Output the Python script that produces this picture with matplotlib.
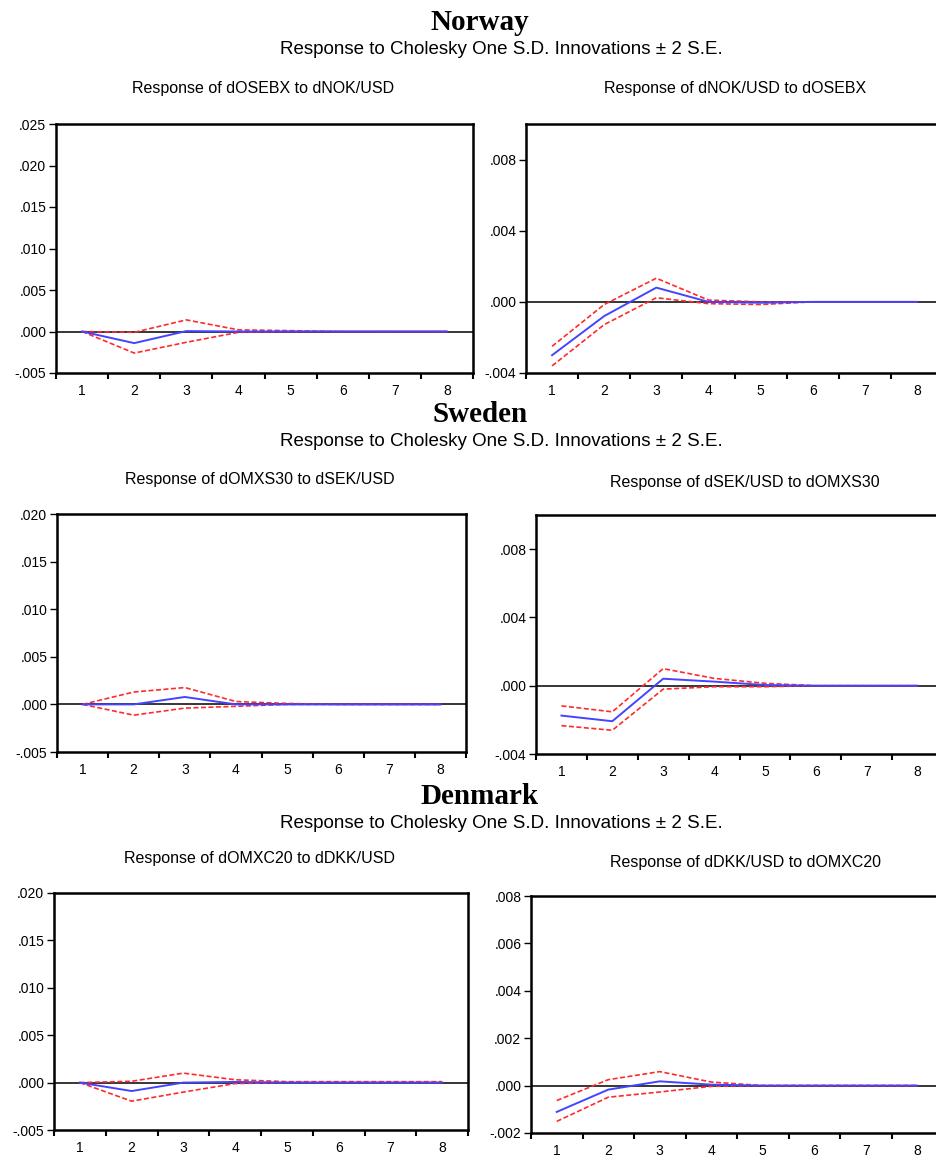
import matplotlib
matplotlib.use('Agg')
import matplotlib.pyplot as plt
from matplotlib.ticker import FuncFormatter, FixedLocator

W, H = 936, 1156

periods = [1, 2, 3, 4, 5, 6, 7, 8]

# Norway
nor_l_resp = [0.0, -0.0014, 0.00005, 0.0, 0.0, 0.0, 0.0, 0.0]
nor_l_up = [0.0, -0.0001, 0.0014, 0.0002, 0.0001, 0.0, 0.0, 0.0]
nor_l_lo = [0.0, -0.0026, -0.0013, -0.0001, 0.0, 0.0, 0.0, 0.0]
nor_r_resp = [-0.0030, -0.0008, 0.0008, 0.0, -0.00005, 0.0, 0.0, 0.0]
nor_r_up = [-0.0025, -0.00015, 0.00133, 0.0001, 0.0, 0.0, 0.0, 0.0]
nor_r_lo = [-0.0036, -0.00128, 0.00023, -0.0001, -0.00015, 0.0, 0.0, 0.0]

# Sweden
swe_l_resp = [0.0, 0.0, 0.00078, 0.0, 0.0, 0.0, 0.0, 0.0]
swe_l_up = [0.0, 0.0013, 0.00177, 0.0003, 0.0001, 0.0, 0.0, 0.0]
swe_l_lo = [0.0, -0.00113, -0.00039, -0.0002, 0.0, 0.0, 0.0, 0.0]
swe_r_resp = [-0.00175, -0.00208, 0.00041, 0.00024, 0.00004, 0.0, 0.0, 0.0]
swe_r_up = [-0.00118, -0.00153, 0.0010, 0.00043, 0.00014, 0.0, 0.0, 0.0]
swe_r_lo = [-0.00234, -0.00261, -0.0002, -0.00006, -0.00006, 0.0, 0.0, 0.0]

# Denmark
den_l_resp = [0.0, -0.00089, 0.0, 0.00007, 0.0, 0.0, 0.0, 0.0]
den_l_up = [0.0, 0.00014, 0.0010, 0.0003, 0.0001, 0.0001, 0.0001, 0.0001]
den_l_lo = [0.0, -0.00196, -0.0010, -0.0001, 0.0, 0.0, 0.0, 0.0]
den_r_resp = [-0.00111, -0.00017, 0.00018, 0.00004, 0.0, 0.0, 0.0, 0.0]
den_r_up = [-0.00063, 0.00025, 0.00059, 0.00015, 0.0, 0.0, 0.0, 0.0]
den_r_lo = [-0.00151, -0.00049, -0.00027, -0.00003, 0.0, 0.0, 0.0, 0.0]

countries = ['Norway', 'Sweden', 'Denmark']
subtitle = 'Response to Cholesky One S.D. Innovations \u00b1 2 S.E.'
panel_titles = [
    ('Response of dOSEBX to dNOK/USD', 'Response of dNOK/USD to dOSEBX'),
    ('Response of dOMXS30 to dSEK/USD', 'Response of dSEK/USD to dOMXS30'),
    ('Response of dOMXC20 to dDKK/USD', 'Response of dDKK/USD to dOMXC20'),
]

SANS = 'Liberation Sans'
SERIF = 'Liberation Serif'


def fmt_tick(v, pos):
    s = f'{v:.3f}'
    return s.replace('0.', '.', 1)


def px_axes(fig, left, right, top, bottom):
    return fig.add_axes([left / W, 1 - bottom / H, (right - left) / W, (bottom - top) / H])


def draw_panel(ax, resp, up, lo, ylim, yticks):
    ax.axhline(0, color='black', lw=1.1, zorder=1)
    ax.plot(periods, up, color='#ff2a2a', lw=1.2, ls=(0, (3, 1.5)), zorder=2)
    ax.plot(periods, lo, color='#ff2a2a', lw=1.2, ls=(0, (3, 1.5)), zorder=2)
    ax.plot(periods, resp, color='#4444ff', lw=1.4, zorder=3)
    ax.set_xlim(0.5, 8.5)
    ax.set_ylim(*ylim)
    ax.set_yticks(yticks)
    ax.yaxis.set_major_formatter(FuncFormatter(fmt_tick))
    ax.xaxis.set_major_locator(FixedLocator([p + 0.5 for p in range(0, 9)]))
    ax.set_xticklabels([])
    ax.set_xticks(periods, labels=[str(p) for p in periods], minor=True)
    ax.tick_params(axis='x', which='major', length=4, width=1.5, direction='out')
    ax.tick_params(axis='x', which='minor', length=0, pad=8, labelsize=10)
    ax.tick_params(axis='y', length=5, width=1.0, direction='out', labelsize=10, pad=2)
    for lbl in ax.get_xticklabels(minor=True) + ax.get_yticklabels():
        lbl.set_family(SANS)
    for sp in ax.spines.values():
        sp.set_linewidth(1.8)


fig = plt.figure(figsize=(W / 100, H / 100), dpi=100)

# pixel boxes for the six panels: left, right, top, bottom
boxes = [
    ((56, 473, 124, 373), (526, 943, 124, 373)),
    ((57, 466, 514, 752), (536, 943, 515, 754)),
    ((54, 468, 893, 1130), (531, 943, 896, 1133)),
]
data = [
    ((nor_l_resp, nor_l_up, nor_l_lo), (nor_r_resp, nor_r_up, nor_r_lo)),
    ((swe_l_resp, swe_l_up, swe_l_lo), (swe_r_resp, swe_r_up, swe_r_lo)),
    ((den_l_resp, den_l_up, den_l_lo), (den_r_resp, den_r_up, den_r_lo)),
]
limits = [
    (((-0.005, 0.025), [-0.005, 0, 0.005, 0.010, 0.015, 0.020, 0.025]),
     ((-0.004, 0.010), [-0.004, 0, 0.004, 0.008])),
    (((-0.005, 0.020), [-0.005, 0, 0.005, 0.010, 0.015, 0.020]),
     ((-0.004, 0.010), [-0.004, 0, 0.004, 0.008])),
    (((-0.005, 0.020), [-0.005, 0, 0.005, 0.010, 0.015, 0.020]),
     ((-0.002, 0.008), [-0.002, 0, 0.002, 0.004, 0.006, 0.008])),
]
title_y = [23, 415, 796]
sub_y = [50, 442, 823]
ptitle_y = [(88, 88), (480, 482), (858, 862)]
ptitle_x = [(263, 735), (260, 745), (260, 745)]

for i, country in enumerate(countries):
    fig.text(480 / W, 1 - title_y[i] / H, country, family=SERIF, weight='bold',
             fontsize=21, ha='center', va='center')
    fig.text(501 / W, 1 - sub_y[i] / H, subtitle, family=SANS,
             fontsize=13.5, ha='center', va='center')
    for j in range(2):
        ax = px_axes(fig, *boxes[i][j])
        resp, up, lo = data[i][j]
        ylim, yt = limits[i][j]
        draw_panel(ax, resp, up, lo, ylim, yt)
        fig.text(ptitle_x[i][j] / W, 1 - ptitle_y[i][j] / H, panel_titles[i][j],
                 family=SANS, fontsize=11.5, ha='center', va='center')

fig.savefig('out.png', dpi=100)
